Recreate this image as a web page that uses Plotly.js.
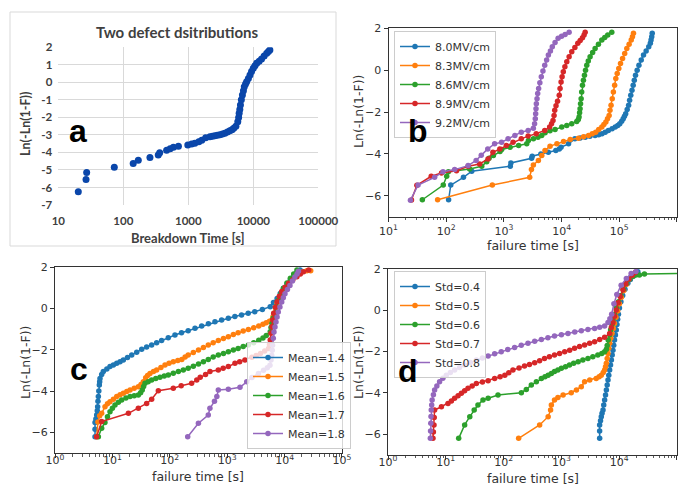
<!DOCTYPE html>
<html>
<head>
<meta charset="utf-8">
<script src="https://cdn.plot.ly/plotly-3.0.1.min.js"></script>
<style>html,body{margin:0;padding:0;background:#fff;}#chart{width:686px;height:491px;}</style>
</head>
<body>
<div id="chart"></div>
<script>
// ---------- Panel a : Two defect distributions (Excel) ----------
const aPoints = [[20.3,-6.25],[26.7,-5.54],[27.3,-5.14],[72.7,-4.84],[142,-4.63],[170,-4.44],[257,-4.29],[345,-4.15],[363,-4.02],[464,-3.87],[525,-3.79],[590,-3.71],[705,-3.64],[982,-3.58],[1125,-3.52],[1260,-3.47],[1450,-3.39],[1610,-3.30],[1850,-3.16],[2150,-3.10],[2350,-3.07],[2560,-3.05],[2800,-3.02],[3070,-2.99],[3350,-2.95],[3650,-2.91],[4000,-2.84],[4350,-2.76],[4700,-2.70],[5000,-2.62],[5400,-2.50],[5770,-2.25],[5950,-2.0],[6060,-1.77],[6200,-1.55],[6340,-1.30],[6550,-1.0],[6800,-0.72],[7050,-0.48],[7270,-0.25],[7600,-0.1],[7900,0.04],[8400,0.22],[8900,0.42],[9400,0.62],[10000,0.80],[10600,0.95],[11300,1.09],[12300,1.2],[13400,1.33],[14700,1.5],[16100,1.66],[17100,1.76],[18000,1.85]];

// ---------- Panel b : field dependence ----------
const bLabels = ['8.0MV/cm','8.3MV/cm','8.6MV/cm','8.9MV/cm','9.2MV/cm'];
const b80 = [[110,-6.19],[120,-5.49],[199,-5.12],[277,-4.83],[1290,-4.59],[1320,-4.43],[3020,-4.21],[3090,-4.11],[4370,-4.0],[5890,-3.92],[7940,-3.84],[9120,-3.76],[9770,-3.68],[13200,-3.52],[17000,-3.28],[21000,-3.24],[25700,-3.2],[31000,-3.16],[38000,-3.12],[44000,-3.08],[50100,-3.04],[57000,-2.96],[64600,-2.88],[75000,-2.8],[85100,-2.72],[94000,-2.64],[102000,-2.56],[110000,-2.44],[117000,-2.32],[123000,-2.2],[129000,-2.08],[137000,-1.88],[145000,-1.68],[151000,-1.44],[158000,-1.2],[166000,-0.96],[174000,-0.72],[182000,-0.48],[191000,-0.24],[204000,0.0],[219000,0.24],[240000,0.48],[263000,0.72],[292000,0.92],[324000,1.12],[345000,1.28],[355000,1.44],[365000,1.6],[372000,1.76]];
const b83 = [[71,-6.19],[630,-5.49],[2800,-5.12],[3000,-4.75],[3240,-4.53],[3960,-4.32],[4540,-4.08],[5160,-3.84],[6300,-3.63],[8300,-3.52],[10800,-3.41],[14100,-3.31],[19600,-3.25],[24000,-3.18],[29300,-3.12],[34000,-3.04],[39000,-2.96],[44000,-2.84],[49800,-2.72],[54000,-2.6],[58500,-2.48],[62500,-2.32],[66600,-2.16],[69000,-1.92],[72000,-1.68],[75500,-1.36],[79000,-1.04],[83000,-0.72],[87000,-0.4],[92000,-0.16],[98000,0.08],[105000,0.32],[114000,0.56],[124000,0.8],[135000,1.04],[148000,1.24],[161000,1.44],[169000,1.6],[176000,1.76]];
const b86 = [[38.6,-6.19],[89,-5.49],[102,-5.07],[109,-4.85],[255,-4.72],[413,-4.59],[504,-4.37],[553,-4.21],[658,-4.08],[857,-3.89],[916,-3.79],[1280,-3.68],[1800,-3.6],[2490,-3.52],[2660,-3.36],[3250,-3.28],[3900,-3.2],[4530,-3.12],[5180,-2.99],[6300,-2.9],[7710,-2.83],[10070,-2.72],[12300,-2.64],[15000,-2.56],[18300,-2.45],[19500,-2.36],[20100,-2.24],[20500,-2.04],[20900,-1.84],[21300,-1.6],[21800,-1.36],[22300,-1.04],[23000,-0.72],[23900,-0.48],[24900,-0.24],[26000,0.0],[27300,0.24],[29000,0.44],[31200,0.64],[34500,0.84],[38100,1.04],[43500,1.24],[49800,1.44],[56000,1.56],[63100,1.68],[74100,1.81]];
const b89 = [[25,-6.2],[31,-5.5],[55,-5.07],[83,-4.91],[151,-4.8],[240,-4.59],[380,-4.48],[530,-4.24],[645,-3.92],[850,-3.76],[1100,-3.6],[1440,-3.44],[2000,-3.28],[2630,-3.15],[3630,-3.04],[5100,-2.88],[6200,-2.72],[6700,-2.56],[7100,-2.4],[7400,-2.16],[7600,-1.92],[8000,-1.7],[8500,-1.48],[9100,-1.2],[9400,-0.88],[9800,-0.56],[10200,-0.32],[10700,-0.08],[11400,0.16],[12300,0.4],[13500,0.64],[15000,0.88],[17000,1.08],[19100,1.28],[21000,1.42],[23000,1.55],[24500,1.68],[25600,1.81]];
const b92 = [[24,-6.21],[32.5,-5.49],[63,-5.12],[88,-4.85],[140,-4.75],[240,-4.56],[330,-4.31],[405,-4.07],[525,-3.76],[690,-3.52],[910,-3.44],[1180,-3.28],[1550,-3.12],[2000,-2.96],[2630,-2.88],[3240,-2.77],[3400,-2.56],[3500,-2.32],[3550,-2.08],[3600,-1.84],[3650,-1.6],[3750,-1.36],[3850,-1.12],[4000,-0.88],[4200,-0.6],[4450,-0.32],[4750,-0.04],[5100,0.24],[5500,0.48],[5900,0.72],[6400,0.92],[6900,1.12],[7700,1.32],[8700,1.52],[10000,1.62],[11500,1.7],[13500,1.81]];

// ---------- Panel c : mean dependence ----------
const cLabels = ['Mean=1.4','Mean=1.5','Mean=1.6','Mean=1.7','Mean=1.8'];
const c14 = [[4.98,-6.21],[4.98,-5.85],[4.98,-5.53],[5.15,-5.35],[5.32,-5.16],[5.45,-4.95],[5.53,-4.76],[5.6,-4.5],[5.69,-4.27],[5.8,-4.0],[5.92,-3.71],[6.0,-3.55],[6.08,-3.39],[6.5,-3.2],[6.95,-3.06],[8.0,-2.93],[9.08,-2.82],[10.4,-2.74],[11.9,-2.66],[13.6,-2.58],[15.5,-2.5],[18.3,-2.38],[21.7,-2.26],[26.5,-2.12],[32.4,-1.98],[39.5,-1.87],[48.3,-1.77],[59,-1.66],[72,-1.56],[94,-1.42],[123,-1.29],[160,-1.18],[209,-1.08],[275,-0.96],[359,-0.85],[470,-0.75],[612,-0.65],[800,-0.56],[1047,-0.48],[1360,-0.4],[1778,-0.32],[2320,-0.24],[3020,-0.16],[4100,-0.06],[5620,0.08],[6400,0.28],[7410,0.48],[8400,0.72],[9550,0.97],[11000,1.18],[12600,1.37],[14500,1.56],[16400,1.73],[18600,1.85]];
const c15 = [[5.32,-6.21],[5.6,-5.5],[6.0,-5.2],[6.5,-5.08],[7.43,-4.76],[8.2,-4.62],[9.08,-4.52],[10.4,-4.4],[11.9,-4.27],[13.6,-4.18],[15.5,-4.11],[17.8,-4.02],[20.3,-3.95],[24,-3.87],[28.3,-3.79],[31.5,-3.68],[34.6,-3.55],[38,-3.36],[41,-3.25],[45.2,-3.15],[52,-3.06],[59,-2.98],[70,-2.86],[82.4,-2.74],[97,-2.66],[115,-2.58],[138,-2.53],[162,-2.47],[185,-2.36],[209,-2.26],[257,-2.14],[316,-2.02],[385,-1.9],[468,-1.77],[570,-1.66],[700,-1.56],[860,-1.46],[1047,-1.37],[1280,-1.27],[1550,-1.18],[1900,-1.1],[2340,-1.02],[2900,-0.94],[3550,-0.85],[4200,-0.77],[4790,-0.7],[5450,-0.63],[6030,-0.56],[6300,-0.4],[6610,-0.24],[7000,0.0],[7410,0.24],[8100,0.48],[8910,0.73],[10200,0.98],[11750,1.21],[13800,1.42],[16200,1.61],[19500,1.74],[24500,1.82],[28500,1.82]];
const c16 = [[5.69,-6.21],[6.5,-5.8],[7.41,-5.53],[8.2,-5.25],[9.08,-5.0],[10,-4.84],[11.1,-4.68],[12.7,-4.55],[14.5,-4.44],[17.2,-4.34],[20.3,-4.27],[24,-4.23],[28.3,-4.19],[31,-4.08],[33.1,-3.95],[35,-3.78],[37,-3.63],[42,-3.55],[48.3,-3.47],[57,-3.4],[67.5,-3.34],[80,-3.28],[94.2,-3.23],[115,-3.14],[141,-3.06],[172,-2.98],[209,-2.9],[257,-2.8],[316,-2.69],[385,-2.58],[468,-2.47],[570,-2.36],[700,-2.26],[860,-2.18],[1047,-2.1],[1280,-2.02],[1550,-1.94],[1900,-1.85],[2340,-1.77],[2900,-1.66],[3550,-1.55],[4200,-1.43],[4790,-1.32],[5620,-1.13],[5800,-0.93],[6030,-0.73],[6300,-0.48],[6610,-0.24],[7200,0.08],[7850,0.4],[8650,0.7],[9550,0.97],[11000,1.22],[12600,1.45],[14400,1.66],[16400,1.85]];
const c17 = [[5.3,-6.21],[6.5,-5.48],[19,-5.08],[28.3,-4.84],[39.5,-4.6],[48.3,-4.4],[63.1,-3.99],[115,-3.87],[158,-3.75],[240,-3.63],[295,-3.47],[339,-3.34],[420,-3.2],[501,-3.06],[700,-2.98],[850,-2.9],[1047,-2.82],[1365,-2.66],[1650,-2.58],[2040,-2.5],[2690,-2.37],[3200,-2.28],[3800,-2.18],[4500,-2.06],[5250,-1.94],[5450,-1.75],[5620,-1.53],[5800,-1.2],[6030,-0.89],[6250,-0.56],[6460,-0.24],[6900,0.05],[7410,0.32],[8100,0.58],[8910,0.81],[10200,1.02],[11750,1.21],[13900,1.38],[16400,1.53],[18800,1.66],[21400,1.77],[26300,1.85]];
const c18 = [[205,-6.21],[315,-5.56],[468,-5.16],[500,-4.84],[600,-4.5],[660,-4.27],[700,-3.95],[1047,-3.92],[1670,-3.82],[2190,-3.55],[2700,-3.35],[3500,-3.15],[4300,-3.0],[5000,-2.88],[5560,-2.76],[5800,-2.5],[5960,-2.27],[6100,-2.03],[6170,-1.79],[6350,-1.45],[6530,-1.15],[6800,-0.9],[7080,-0.66],[7400,-0.42],[7760,-0.18],[8300,0.06],[8910,0.31],[9500,0.51],[10160,0.71],[11200,0.91],[12400,1.11],[13700,1.32],[15100,1.52],[16500,1.66],[17400,1.79]];

// ---------- Panel d : std dependence ----------
const dLabels = ['Std=0.4','Std=0.5','Std=0.6','Std=0.7','Std=0.8'];
const d04 = [[4590,-6.21],[4590,-5.85],[4590,-5.56],[4750,-5.36],[4900,-5.16],[5050,-5.0],[5250,-4.84],[5400,-4.6],[5600,-4.35],[5800,-4.11],[6000,-3.87],[6200,-3.63],[6400,-3.39],[6600,-3.15],[6840,-2.9],[7080,-2.66],[7330,-2.42],[7560,-2.18],[7800,-1.94],[8050,-1.7],[8300,-1.45],[8600,-1.21],[8900,-0.97],[9150,-0.7],[9400,-0.45],[9700,-0.2],[10100,0.1],[10700,0.4],[11500,0.7],[12600,1.0],[14100,1.29],[15600,1.48],[17300,1.63],[19200,1.76],[21000,1.85]];
const d05 = [[182,-6.21],[420,-5.56],[590,-5.16],[650,-4.84],[670,-4.6],[760,-4.35],[870,-4.23],[1070,-4.11],[1480,-4.0],[1820,-3.87],[2210,-3.71],[2520,-3.47],[3090,-3.39],[4000,-3.31],[4500,-3.23],[4900,-3.15],[5300,-3.02],[5600,-2.9],[5800,-2.74],[6000,-2.58],[6200,-2.34],[6400,-2.1],[6600,-1.85],[6840,-1.61],[7150,-1.37],[7500,-1.13],[7900,-0.89],[8300,-0.65],[8800,-0.35],[9400,-0.05],[10100,0.3],[10900,0.62],[12000,0.95],[13400,1.25],[15100,1.5],[17000,1.68],[19000,1.8]];
const d06 = [[16.7,-6.21],[21.2,-5.56],[26,-5.16],[31,-4.84],[36,-4.6],[44,-4.35],[54,-4.27],[80,-4.11],[203,-4.0],[247,-3.84],[302,-3.63],[369,-3.47],[450,-3.31],[520,-3.23],[590,-3.15],[670,-3.07],[760,-2.98],[870,-2.9],[1000,-2.82],[1180,-2.74],[1380,-2.66],[1630,-2.58],[1950,-2.5],[2350,-2.42],[2880,-2.34],[3500,-2.26],[4270,-2.18],[5000,-2.1],[5600,-2.02],[6000,-1.9],[6200,-1.72],[6450,-1.45],[6840,-1.2],[7100,-0.97],[7500,-0.7],[7800,-0.48],[8300,-0.2],[8900,0.1],[9700,0.4],[10600,0.7],[11800,1.0],[13300,1.28],[15100,1.5],[17500,1.64],[19500,1.7],[22400,1.69],[27300,1.74],[150000,1.77]];
const d07 = [[6.0,-6.21],[6.1,-5.9],[6.25,-5.56],[6.3,-5.2],[6.4,-4.84],[8.4,-4.68],[10.9,-4.52],[12.5,-4.4],[14.2,-4.27],[16.3,-4.15],[18.6,-4.03],[21.2,-3.91],[24.2,-3.79],[28.6,-3.67],[33.8,-3.55],[43,-3.48],[54,-3.42],[70,-3.31],[87,-3.23],[105,-3.15],[123,-3.03],[145,-2.9],[185,-2.8],[230,-2.71],[280,-2.63],[345,-2.55],[420,-2.45],[510,-2.34],[620,-2.26],[760,-2.18],[930,-2.1],[1140,-2.02],[1390,-1.94],[1690,-1.85],[2060,-1.77],[2520,-1.69],[3080,-1.61],[3760,-1.53],[4600,-1.43],[5600,-1.32],[6840,-1.13],[7300,-0.85],[7800,-0.6],[8300,-0.3],[8900,0.0],[9600,0.35],[10400,0.65],[11600,0.98],[13000,1.27],[14700,1.5],[16800,1.68],[19000,1.82]];
const d08 = [[5.4,-6.21],[5.45,-5.85],[5.5,-5.48],[5.55,-5.15],[5.6,-4.84],[5.7,-4.6],[5.8,-4.35],[6.1,-4.1],[6.4,-3.87],[7.0,-3.67],[7.8,-3.47],[8.9,-3.3],[10.2,-3.15],[12,-3.02],[14.2,-2.9],[17.3,-2.78],[21.2,-2.66],[26.7,-2.54],[33.8,-2.42],[43,-2.32],[54,-2.23],[70,-2.12],[91,-2.02],[118,-1.91],[155,-1.81],[202,-1.71],[264,-1.61],[345,-1.51],[450,-1.42],[585,-1.34],[760,-1.26],[1000,-1.19],[1300,-1.13],[1700,-1.06],[2210,-1.0],[2880,-0.94],[3760,-0.89],[4600,-0.83],[5600,-0.77],[6400,-0.6],[6900,-0.42],[7400,-0.2],[8100,0.3],[9100,0.75],[10800,1.2],[13300,1.53],[16100,1.77],[19500,1.87]];

const logTicksB = [10,100,1000,10000,100000,1000000];
const logTicksCD = [1,10,100,1000,10000,100000];
const aTicksX = [10,100,1000,10000,100000];
const aTicksY = [-7,-6,-5,-4,-3,-2,-1,0,1,2];
const mplTicksY = [-6,-4,-2,0,2];

const COLORS = ['#1f77b4','#ff7f0e','#2ca02c','#d62728','#9467bd'];
const MPL = 'DejaVu Sans';
const XL = 'Lato';

function sup(v){ return '10<sup>' + Math.round(Math.log10(v)) + '</sup>'; }
function minusText(v){ return v < 0 ? '\u2212' + Math.abs(v) : String(v); }
function minorLog(majors){
  const out = [];
  majors.forEach(m => { for (let k = 2; k <= 9; k++) out.push(k * m); });
  return out;
}

function series(pts, name, color, xa, ya, legendKey){
  return {x: pts.map(p=>p[0]), y: pts.map(p=>p[1]), name: name, type:'scatter', mode:'lines+markers',
    xaxis: xa, yaxis: ya, legend: legendKey,
    line:{color: color, width:1.5}, marker:{color: color, size:5.5}};
}

const traces = [];
traces.push({x: aPoints.map(p=>p[0]), y: aPoints.map(p=>p[1]), type:'scatter', mode:'markers',
  xaxis:'x', yaxis:'y', showlegend:false, marker:{color:'#0a46aa', size:7}});
[b80,b83,b86,b89,b92].forEach((s,i)=>traces.push(series(s,bLabels[i],COLORS[i],'x2','y2','legend')));
[c14,c15,c16,c17,c18].forEach((s,i)=>traces.push(series(s,cLabels[i],COLORS[i],'x3','y3','legend2')));
[d04,d05,d06,d07,d08].forEach((s,i)=>traces.push(series(s,dLabels[i],COLORS[i],'x4','y4','legend3')));

function mplX(domain, range, ticks, anchor, standoff){
  return {type:'log', domain: domain, range: range, anchor: anchor,
    tickmode:'array', tickvals: ticks, ticktext: ticks.map(sup),
    ticks:'outside', ticklen:4, tickwidth:1, tickcolor:'#333',
    showline:true, linecolor:'#333', linewidth:1, mirror:true,
    showgrid:false, zeroline:false, ticklabelstandoff: standoff,
    tickfont:{family: MPL, size:11, color:'#333'},
    minor:{tickmode:'array', tickvals: minorLog(ticks), ticks:'outside', ticklen:2.5, tickwidth:0.8,
           tickcolor:'#333', showgrid:false}};
}
function mplY(domain, anchor){
  return {domain: domain, range:[-7,2], anchor: anchor,
    tickmode:'array', tickvals: mplTicksY, ticktext: mplTicksY.map(minusText),
    ticks:'outside', ticklen:4, tickwidth:1, tickcolor:'#333',
    showline:true, linecolor:'#333', linewidth:1, mirror:true,
    showgrid:false, zeroline:false,
    tickfont:{family: MPL, size:11, color:'#333'}};
}
function legendBox(x, y, yanchor){
  return {x: x, y: y, xanchor:'left', yanchor: yanchor, bgcolor:'rgba(255,255,255,0.8)',
    bordercolor:'#cccccc', borderwidth:1, font:{family: MPL, size:11, color:'#333'},
    itemwidth:30, tracegroupgap:0};
}

const W = 686, H = 491;
const px = v => v / W, py = v => 1 - v / H;

function note(text, x, y, font, angle){
  return {text: text, xref:'paper', yref:'paper', x: px(x), y: py(y), xanchor:'center', yanchor:'middle',
    showarrow:false, textangle: angle || 0, font: font};
}
const xlTitle = {family: XL, size:15, color:'#404040', weight:700};
const xlAxis = {family: XL, size:13, color:'#404040', weight:700};
const mplAxis = {family: MPL, size:12.5, color:'#333'};
const letterFont = {family:'Liberation Sans', size:32, color:'#000', weight:700};

const layout = {
  width: W, height: H, margin:{l:0, r:0, t:0, b:0},
  paper_bgcolor:'#fff', plot_bgcolor:'#fff',
  xaxis: {type:'log', domain:[px(58.3), px(318.3)], range:[0.9999,5.0001], anchor:'y',
    tickmode:'array', tickvals: aTicksX, ticktext: aTicksX.map(String),
    showgrid:true, gridcolor:'#d9d9d9', gridwidth:1, zeroline:false, showline:false, ticks:'',
    ticklabelstandoff: 7,
    tickfont:{family: XL, size:11.5, color:'#404040', weight:700}},
  yaxis: {domain:[py(205), py(47.3)], range:[-7,2], anchor:'x',
    tickmode:'array', tickvals: aTicksY, ticktext: aTicksY.map(String),
    showgrid:true, gridcolor:'#d9d9d9', gridwidth:1, zeroline:false, showline:false, ticks:'',
    ticklabelstandoff: 5,
    tickfont:{family: XL, size:11.5, color:'#404040', weight:700}},
  xaxis2: mplX([px(388.5), px(677)], [0.9999,6.0001], logTicksB, 'y2', 0),
  yaxis2: mplY([py(216.7), py(28.3)], 'x2'),
  xaxis3: mplX([px(55), px(342)], [-0.0001,5.0001], logTicksCD, 'y3', -7),
  yaxis3: mplY([py(453), py(267)], 'x3'),
  xaxis4: mplX([px(388), px(677)], [-0.0001,5.0001], logTicksCD, 'y4', -7),
  yaxis4: mplY([py(454.7), py(268.7)], 'x4'),
  showlegend: true,
  legend: legendBox(px(394), py(31), 'top'),
  legend2: legendBox(px(247), py(449), 'bottom'),
  legend3: legendBox(px(394), py(271), 'top'),
  shapes: [
    {type:'rect', xref:'paper', yref:'paper', x0:px(10), x1:px(336), y0:py(246), y1:py(12),
     line:{color:'#d9d9d9', width:1}, fillcolor:'rgba(0,0,0,0)', layer:'below'}
  ],
  annotations: [
    note('Two defect dsitributions', 177, 32, xlTitle),
    note('Breakdown Time [s]', 188, 238, xlAxis),
    note('Ln(-Ln(1-F))', 25, 124, {family: XL, size:12.5, color:'#404040', weight:700}, -90),
    note('failure time [s]', 533, 245, mplAxis),
    note('Ln(-Ln(1-F))', 358, 112, mplAxis, -90),
    note('failure time [s]', 198, 476, mplAxis),
    note('Ln(-Ln(1-F))', 25, 363, mplAxis, -90),
    note('failure time [s]', 533, 478, mplAxis),
    note('Ln(-Ln(1-F))', 358, 363, mplAxis, -90),
    note('a', 78, 131, letterFont),
    note('b', 418, 131, letterFont),
    note('c', 79, 369, letterFont),
    note('d', 408, 371, letterFont)
  ]
};

Plotly.newPlot('chart', traces, layout, {staticPlot:true, displayModeBar:false});
</script>
</body>
</html>
